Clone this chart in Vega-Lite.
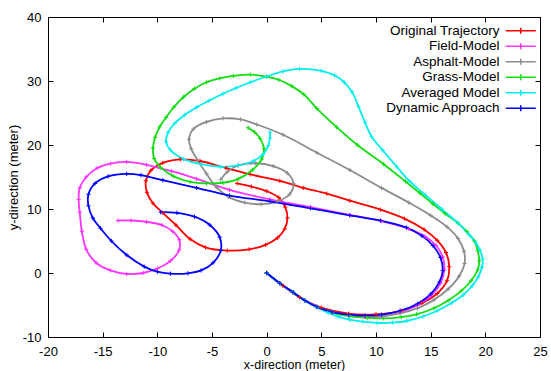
{
  "$schema": "https://vega.github.io/schema/vega-lite/v6.json",
  "width": 492,
  "height": 320,
  "autosize": {"type": "none"},
  "padding": {"left": 48, "top": 17, "right": 11, "bottom": 34},
  "background": "white",
  "config": {
    "font": "Liberation Sans",
    "view": {"stroke": "black", "strokeWidth": 1},
    "axis": {"domain": false, "grid": false, "labelFontSize": 13, "titleFontSize": 13, "titleFontWeight": "normal", "labelColor": "black", "titleColor": "black", "tickColor": "black", "tickSize": -5, "labelFlush": false, "labelOverlap": false}
  },
  "data": {"values": [
    {"s":"Original Trajectory","i":0,"x":0,"y":0},{"s":"Original Trajectory","i":1,"x":1.5,"y":-2.0},{"s":"Original Trajectory","i":2,"x":3.0,"y":-3.8},{"s":"Original Trajectory","i":3,"x":5.0,"y":-5.4},{"s":"Original Trajectory","i":4,"x":7.5,"y":-6.35},{"s":"Original Trajectory","i":5,"x":10.0,"y":-6.45},{"s":"Original Trajectory","i":6,"x":12.3,"y":-5.9},{"s":"Original Trajectory","i":7,"x":14.2,"y":-4.7},{"s":"Original Trajectory","i":8,"x":15.6,"y":-3.2},{"s":"Original Trajectory","i":9,"x":16.5,"y":-1.2},{"s":"Original Trajectory","i":10,"x":16.7,"y":1.0},{"s":"Original Trajectory","i":11,"x":16.4,"y":3.2},{"s":"Original Trajectory","i":12,"x":15.6,"y":5.1},{"s":"Original Trajectory","i":13,"x":14.4,"y":6.8},{"s":"Original Trajectory","i":14,"x":12.6,"y":8.5},{"s":"Original Trajectory","i":15,"x":10.4,"y":9.9},{"s":"Original Trajectory","i":16,"x":7.6,"y":11.3},{"s":"Original Trajectory","i":17,"x":5.5,"y":12.4},{"s":"Original Trajectory","i":18,"x":3.35,"y":13.3},{"s":"Original Trajectory","i":19,"x":1.2,"y":14.4},{"s":"Original Trajectory","i":20,"x":-1.5,"y":15.4},{"s":"Original Trajectory","i":21,"x":-3.7,"y":16.4},{"s":"Original Trajectory","i":22,"x":-6.1,"y":17.5},{"s":"Original Trajectory","i":23,"x":-7.9,"y":17.75},{"s":"Original Trajectory","i":24,"x":-9.5,"y":17.2},{"s":"Original Trajectory","i":25,"x":-10.6,"y":16.0},{"s":"Original Trajectory","i":26,"x":-11.05,"y":14.4},{"s":"Original Trajectory","i":27,"x":-10.95,"y":12.6},{"s":"Original Trajectory","i":28,"x":-10.4,"y":10.9},{"s":"Original Trajectory","i":29,"x":-9.5,"y":9.4},{"s":"Original Trajectory","i":30,"x":-8.3,"y":7.5},{"s":"Original Trajectory","i":31,"x":-7.0,"y":5.3},{"s":"Original Trajectory","i":32,"x":-5.6,"y":4.0},{"s":"Original Trajectory","i":33,"x":-3.6,"y":3.5},{"s":"Original Trajectory","i":34,"x":-1.6,"y":3.7},{"s":"Original Trajectory","i":35,"x":-0.1,"y":4.4},{"s":"Original Trajectory","i":36,"x":1.0,"y":5.5},{"s":"Original Trajectory","i":37,"x":1.65,"y":6.9},{"s":"Original Trajectory","i":38,"x":1.9,"y":8.6},{"s":"Original Trajectory","i":39,"x":1.7,"y":10.3},{"s":"Original Trajectory","i":40,"x":1.1,"y":11.8},{"s":"Original Trajectory","i":41,"x":0.0,"y":12.8},{"s":"Original Trajectory","i":42,"x":-1.4,"y":13.5},{"s":"Original Trajectory","i":43,"x":-2.7,"y":14.0},
    {"s":"Field-Model","i":0,"x":0,"y":0},{"s":"Field-Model","i":1,"x":1.2,"y":-1.6},{"s":"Field-Model","i":2,"x":2.4,"y":-3.0},{"s":"Field-Model","i":3,"x":3.5,"y":-4.3},{"s":"Field-Model","i":4,"x":4.6,"y":-5.3},{"s":"Field-Model","i":5,"x":6.0,"y":-6.2},{"s":"Field-Model","i":6,"x":7.5,"y":-6.7},{"s":"Field-Model","i":7,"x":9.0,"y":-6.9},{"s":"Field-Model","i":8,"x":10.5,"y":-6.8},{"s":"Field-Model","i":9,"x":12.2,"y":-6.15},{"s":"Field-Model","i":10,"x":13.8,"y":-5.0},{"s":"Field-Model","i":11,"x":15.0,"y":-3.6},{"s":"Field-Model","i":12,"x":15.9,"y":-1.6},{"s":"Field-Model","i":13,"x":16.25,"y":0.5},{"s":"Field-Model","i":14,"x":16.1,"y":2.5},{"s":"Field-Model","i":15,"x":15.5,"y":4.3},{"s":"Field-Model","i":16,"x":14.5,"y":5.7},{"s":"Field-Model","i":17,"x":13.0,"y":6.9},{"s":"Field-Model","i":18,"x":10.5,"y":8.1},{"s":"Field-Model","i":19,"x":7.6,"y":9.1},{"s":"Field-Model","i":20,"x":4.0,"y":10.3},{"s":"Field-Model","i":21,"x":0.3,"y":11.5},{"s":"Field-Model","i":22,"x":-3.4,"y":13.0},{"s":"Field-Model","i":23,"x":-6.4,"y":14.7},{"s":"Field-Model","i":24,"x":-8.7,"y":15.9},{"s":"Field-Model","i":25,"x":-11.0,"y":16.9},{"s":"Field-Model","i":26,"x":-12.8,"y":17.35},{"s":"Field-Model","i":27,"x":-14.3,"y":17.1},{"s":"Field-Model","i":28,"x":-15.5,"y":16.4},{"s":"Field-Model","i":29,"x":-16.5,"y":15.0},{"s":"Field-Model","i":30,"x":-17.1,"y":13.3},{"s":"Field-Model","i":31,"x":-17.2,"y":11.5},{"s":"Field-Model","i":32,"x":-17.1,"y":9.5},{"s":"Field-Model","i":33,"x":-16.9,"y":6.5},{"s":"Field-Model","i":34,"x":-16.5,"y":3.7},{"s":"Field-Model","i":35,"x":-15.6,"y":1.6},{"s":"Field-Model","i":36,"x":-14.3,"y":0.4},{"s":"Field-Model","i":37,"x":-12.8,"y":-0.15},{"s":"Field-Model","i":38,"x":-11.3,"y":0.0},{"s":"Field-Model","i":39,"x":-10.0,"y":0.7},{"s":"Field-Model","i":40,"x":-8.8,"y":1.9},{"s":"Field-Model","i":41,"x":-8.0,"y":3.6},{"s":"Field-Model","i":42,"x":-8.0,"y":5.2},{"s":"Field-Model","i":43,"x":-8.6,"y":6.5},{"s":"Field-Model","i":44,"x":-9.6,"y":7.5},{"s":"Field-Model","i":45,"x":-11.0,"y":8.0},{"s":"Field-Model","i":46,"x":-12.4,"y":8.2},{"s":"Field-Model","i":47,"x":-13.6,"y":8.2},
    {"s":"Asphalt-Model","i":0,"x":0,"y":0},{"s":"Asphalt-Model","i":1,"x":1.2,"y":-1.6},{"s":"Asphalt-Model","i":2,"x":2.4,"y":-3.0},{"s":"Asphalt-Model","i":3,"x":3.5,"y":-4.3},{"s":"Asphalt-Model","i":4,"x":4.6,"y":-5.3},{"s":"Asphalt-Model","i":5,"x":6.0,"y":-6.1},{"s":"Asphalt-Model","i":6,"x":7.5,"y":-6.6},{"s":"Asphalt-Model","i":7,"x":9.0,"y":-6.8},{"s":"Asphalt-Model","i":8,"x":10.5,"y":-6.7},{"s":"Asphalt-Model","i":9,"x":12.2,"y":-6.3},{"s":"Asphalt-Model","i":10,"x":13.8,"y":-5.5},{"s":"Asphalt-Model","i":11,"x":15.3,"y":-4.2},{"s":"Asphalt-Model","i":12,"x":16.6,"y":-2.5},{"s":"Asphalt-Model","i":13,"x":17.6,"y":-0.5},{"s":"Asphalt-Model","i":14,"x":18.1,"y":1.5},{"s":"Asphalt-Model","i":15,"x":18.05,"y":3.4},{"s":"Asphalt-Model","i":16,"x":17.5,"y":5.4},{"s":"Asphalt-Model","i":17,"x":16.5,"y":7.2},{"s":"Asphalt-Model","i":18,"x":15.0,"y":9.0},{"s":"Asphalt-Model","i":19,"x":13.0,"y":11.0},{"s":"Asphalt-Model","i":20,"x":10.5,"y":13.3},{"s":"Asphalt-Model","i":21,"x":7.6,"y":16.1},{"s":"Asphalt-Model","i":22,"x":4.6,"y":18.8},{"s":"Asphalt-Model","i":23,"x":1.5,"y":21.6},{"s":"Asphalt-Model","i":24,"x":-0.9,"y":23.2},{"s":"Asphalt-Model","i":25,"x":-2.4,"y":24.0},{"s":"Asphalt-Model","i":26,"x":-4.0,"y":24.15},{"s":"Asphalt-Model","i":27,"x":-5.5,"y":23.6},{"s":"Asphalt-Model","i":28,"x":-6.7,"y":22.5},{"s":"Asphalt-Model","i":29,"x":-7.1,"y":20.9},{"s":"Asphalt-Model","i":30,"x":-6.9,"y":19.4},{"s":"Asphalt-Model","i":31,"x":-6.3,"y":17.6},{"s":"Asphalt-Model","i":32,"x":-5.5,"y":15.5},{"s":"Asphalt-Model","i":33,"x":-4.6,"y":13.4},{"s":"Asphalt-Model","i":34,"x":-3.5,"y":11.9},{"s":"Asphalt-Model","i":35,"x":-2.0,"y":11.0},{"s":"Asphalt-Model","i":36,"x":-0.5,"y":10.75},{"s":"Asphalt-Model","i":37,"x":1.0,"y":11.2},{"s":"Asphalt-Model","i":38,"x":2.1,"y":12.3},{"s":"Asphalt-Model","i":39,"x":2.45,"y":14.0},{"s":"Asphalt-Model","i":40,"x":1.9,"y":15.6},{"s":"Asphalt-Model","i":41,"x":0.6,"y":16.7},{"s":"Asphalt-Model","i":42,"x":-1.0,"y":17.15},{"s":"Asphalt-Model","i":43,"x":-2.6,"y":16.8},{"s":"Asphalt-Model","i":44,"x":-3.6,"y":15.8},{"s":"Asphalt-Model","i":45,"x":-4.2,"y":14.6},
    {"s":"Grass-Model","i":0,"x":0,"y":0},{"s":"Grass-Model","i":1,"x":1.2,"y":-1.6},{"s":"Grass-Model","i":2,"x":2.4,"y":-3.0},{"s":"Grass-Model","i":3,"x":3.5,"y":-4.3},{"s":"Grass-Model","i":4,"x":4.6,"y":-5.3},{"s":"Grass-Model","i":5,"x":6.0,"y":-6.2},{"s":"Grass-Model","i":6,"x":7.6,"y":-6.75},{"s":"Grass-Model","i":7,"x":9.2,"y":-7.0},{"s":"Grass-Model","i":8,"x":10.7,"y":-7.1},{"s":"Grass-Model","i":9,"x":12.3,"y":-6.9},{"s":"Grass-Model","i":10,"x":13.7,"y":-6.45},{"s":"Grass-Model","i":11,"x":15.3,"y":-5.5},{"s":"Grass-Model","i":12,"x":16.6,"y":-4.3},{"s":"Grass-Model","i":13,"x":17.8,"y":-2.8},{"s":"Grass-Model","i":14,"x":18.7,"y":-1.2},{"s":"Grass-Model","i":15,"x":19.3,"y":0.5},{"s":"Grass-Model","i":16,"x":19.45,"y":1.9},{"s":"Grass-Model","i":17,"x":19.3,"y":3.5},{"s":"Grass-Model","i":18,"x":19.0,"y":5.0},{"s":"Grass-Model","i":19,"x":18.3,"y":6.5},{"s":"Grass-Model","i":20,"x":17.5,"y":7.8},{"s":"Grass-Model","i":21,"x":16.3,"y":9.3},{"s":"Grass-Model","i":22,"x":15.2,"y":10.8},{"s":"Grass-Model","i":23,"x":14.0,"y":12.5},{"s":"Grass-Model","i":24,"x":12.7,"y":14.3},{"s":"Grass-Model","i":25,"x":10.7,"y":17.0},{"s":"Grass-Model","i":26,"x":8.3,"y":20.0},{"s":"Grass-Model","i":27,"x":6.4,"y":22.8},{"s":"Grass-Model","i":28,"x":4.6,"y":25.7},{"s":"Grass-Model","i":29,"x":3.4,"y":27.9},{"s":"Grass-Model","i":30,"x":2.3,"y":29.2},{"s":"Grass-Model","i":31,"x":1.1,"y":30.2},{"s":"Grass-Model","i":32,"x":0,"y":30.7},{"s":"Grass-Model","i":33,"x":-1.5,"y":31.0},{"s":"Grass-Model","i":34,"x":-3.05,"y":30.8},{"s":"Grass-Model","i":35,"x":-4.3,"y":30.4},{"s":"Grass-Model","i":36,"x":-5.5,"y":29.8},{"s":"Grass-Model","i":37,"x":-6.6,"y":28.8},{"s":"Grass-Model","i":38,"x":-7.6,"y":27.5},{"s":"Grass-Model","i":39,"x":-8.5,"y":25.9},{"s":"Grass-Model","i":40,"x":-9.2,"y":24.3},{"s":"Grass-Model","i":41,"x":-9.8,"y":22.8},{"s":"Grass-Model","i":42,"x":-10.2,"y":21.2},{"s":"Grass-Model","i":43,"x":-10.4,"y":19.5},{"s":"Grass-Model","i":44,"x":-10.3,"y":17.9},{"s":"Grass-Model","i":45,"x":-9.7,"y":16.5},{"s":"Grass-Model","i":46,"x":-8.5,"y":15.1},{"s":"Grass-Model","i":47,"x":-7.0,"y":14.25},{"s":"Grass-Model","i":48,"x":-5.5,"y":14.0},{"s":"Grass-Model","i":49,"x":-4.0,"y":14.1},{"s":"Grass-Model","i":50,"x":-2.6,"y":14.7},{"s":"Grass-Model","i":51,"x":-1.3,"y":16.1},{"s":"Grass-Model","i":52,"x":-0.45,"y":17.8},{"s":"Grass-Model","i":53,"x":-0.25,"y":19.4},{"s":"Grass-Model","i":54,"x":-0.6,"y":21.0},{"s":"Grass-Model","i":55,"x":-1.1,"y":22.0},{"s":"Grass-Model","i":56,"x":-1.7,"y":22.7},
    {"s":"Averaged Model","i":0,"x":0,"y":0},{"s":"Averaged Model","i":1,"x":1.2,"y":-1.6},{"s":"Averaged Model","i":2,"x":2.4,"y":-3.0},{"s":"Averaged Model","i":3,"x":3.5,"y":-4.3},{"s":"Averaged Model","i":4,"x":4.6,"y":-5.4},{"s":"Averaged Model","i":5,"x":5.6,"y":-6.2},{"s":"Averaged Model","i":6,"x":6.6,"y":-6.85},{"s":"Averaged Model","i":7,"x":7.6,"y":-7.3},{"s":"Averaged Model","i":8,"x":8.8,"y":-7.6},{"s":"Averaged Model","i":9,"x":10.1,"y":-7.8},{"s":"Averaged Model","i":10,"x":11.5,"y":-7.75},{"s":"Averaged Model","i":11,"x":12.8,"y":-7.5},{"s":"Averaged Model","i":12,"x":14.3,"y":-6.8},{"s":"Averaged Model","i":13,"x":15.6,"y":-5.9},{"s":"Averaged Model","i":14,"x":16.9,"y":-4.7},{"s":"Averaged Model","i":15,"x":18.0,"y":-3.4},{"s":"Averaged Model","i":16,"x":18.8,"y":-2.0},{"s":"Averaged Model","i":17,"x":19.35,"y":-0.6},{"s":"Averaged Model","i":18,"x":19.7,"y":0.9},{"s":"Averaged Model","i":19,"x":19.75,"y":2.2},{"s":"Averaged Model","i":20,"x":19.5,"y":3.6},{"s":"Averaged Model","i":21,"x":19.1,"y":4.8},{"s":"Averaged Model","i":22,"x":18.5,"y":6.0},{"s":"Averaged Model","i":23,"x":17.5,"y":7.8},{"s":"Averaged Model","i":24,"x":16.0,"y":10.0},{"s":"Averaged Model","i":25,"x":14.5,"y":12.2},{"s":"Averaged Model","i":26,"x":13.1,"y":14.3},{"s":"Averaged Model","i":27,"x":11.9,"y":16.6},{"s":"Averaged Model","i":28,"x":10.6,"y":19.2},{"s":"Averaged Model","i":29,"x":9.6,"y":21.3},{"s":"Averaged Model","i":30,"x":9.0,"y":23.5},{"s":"Averaged Model","i":31,"x":8.4,"y":26.0},{"s":"Averaged Model","i":32,"x":7.8,"y":28.3},{"s":"Averaged Model","i":33,"x":7.1,"y":29.8},{"s":"Averaged Model","i":34,"x":6.2,"y":30.9},{"s":"Averaged Model","i":35,"x":5.0,"y":31.6},{"s":"Averaged Model","i":36,"x":3.0,"y":31.9},{"s":"Averaged Model","i":37,"x":1.5,"y":31.5},{"s":"Averaged Model","i":38,"x":0,"y":30.7},{"s":"Averaged Model","i":39,"x":-1.5,"y":29.8},{"s":"Averaged Model","i":40,"x":-2.8,"y":28.9},{"s":"Averaged Model","i":41,"x":-4.0,"y":28.0},{"s":"Averaged Model","i":42,"x":-5.3,"y":26.9},{"s":"Averaged Model","i":43,"x":-6.4,"y":25.9},{"s":"Averaged Model","i":44,"x":-7.5,"y":24.7},{"s":"Averaged Model","i":45,"x":-8.4,"y":23.4},{"s":"Averaged Model","i":46,"x":-9.0,"y":22.0},{"s":"Averaged Model","i":47,"x":-9.2,"y":20.5},{"s":"Averaged Model","i":48,"x":-8.8,"y":19.2},{"s":"Averaged Model","i":49,"x":-7.6,"y":17.8},{"s":"Averaged Model","i":50,"x":-6.0,"y":17.0},{"s":"Averaged Model","i":51,"x":-4.2,"y":16.6},{"s":"Averaged Model","i":52,"x":-2.6,"y":16.8},{"s":"Averaged Model","i":53,"x":-1.2,"y":17.5},{"s":"Averaged Model","i":54,"x":-0.3,"y":18.6},{"s":"Averaged Model","i":55,"x":0.15,"y":19.9},{"s":"Averaged Model","i":56,"x":0.3,"y":21.1},{"s":"Averaged Model","i":57,"x":0.3,"y":22.0},
    {"s":"Dynamic Approach","i":0,"x":0,"y":0},{"s":"Dynamic Approach","i":1,"x":1.2,"y":-1.6},{"s":"Dynamic Approach","i":2,"x":2.4,"y":-3.0},{"s":"Dynamic Approach","i":3,"x":3.5,"y":-4.3},{"s":"Dynamic Approach","i":4,"x":4.6,"y":-5.3},{"s":"Dynamic Approach","i":5,"x":6.0,"y":-6.1},{"s":"Dynamic Approach","i":6,"x":7.5,"y":-6.5},{"s":"Dynamic Approach","i":7,"x":9.0,"y":-6.65},{"s":"Dynamic Approach","i":8,"x":10.5,"y":-6.5},{"s":"Dynamic Approach","i":9,"x":12.2,"y":-5.9},{"s":"Dynamic Approach","i":10,"x":13.8,"y":-4.8},{"s":"Dynamic Approach","i":11,"x":15.0,"y":-3.3},{"s":"Dynamic Approach","i":12,"x":15.8,"y":-1.4},{"s":"Dynamic Approach","i":13,"x":16.1,"y":0.4},{"s":"Dynamic Approach","i":14,"x":15.9,"y":2.4},{"s":"Dynamic Approach","i":15,"x":15.2,"y":4.3},{"s":"Dynamic Approach","i":16,"x":14.2,"y":5.8},{"s":"Dynamic Approach","i":17,"x":12.8,"y":7.1},{"s":"Dynamic Approach","i":18,"x":10.4,"y":8.2},{"s":"Dynamic Approach","i":19,"x":7.6,"y":9.0},{"s":"Dynamic Approach","i":20,"x":4.0,"y":10.1},{"s":"Dynamic Approach","i":21,"x":0.3,"y":11.2},{"s":"Dynamic Approach","i":22,"x":-3.4,"y":12.1},{"s":"Dynamic Approach","i":23,"x":-6.4,"y":13.3},{"s":"Dynamic Approach","i":24,"x":-9.5,"y":14.5},{"s":"Dynamic Approach","i":25,"x":-11.5,"y":15.3},{"s":"Dynamic Approach","i":26,"x":-12.8,"y":15.5},{"s":"Dynamic Approach","i":27,"x":-14.5,"y":15.1},{"s":"Dynamic Approach","i":28,"x":-15.7,"y":14.0},{"s":"Dynamic Approach","i":29,"x":-16.3,"y":12.3},{"s":"Dynamic Approach","i":30,"x":-16.3,"y":10.5},{"s":"Dynamic Approach","i":31,"x":-15.9,"y":8.6},{"s":"Dynamic Approach","i":32,"x":-15.2,"y":7.0},{"s":"Dynamic Approach","i":33,"x":-14.2,"y":5.0},{"s":"Dynamic Approach","i":34,"x":-12.8,"y":2.8},{"s":"Dynamic Approach","i":35,"x":-11.2,"y":1.0},{"s":"Dynamic Approach","i":36,"x":-10.0,"y":0.2},{"s":"Dynamic Approach","i":37,"x":-8.8,"y":-0.1},{"s":"Dynamic Approach","i":38,"x":-7.2,"y":-0.05},{"s":"Dynamic Approach","i":39,"x":-6.0,"y":0.4},{"s":"Dynamic Approach","i":40,"x":-4.9,"y":1.6},{"s":"Dynamic Approach","i":41,"x":-4.2,"y":3.5},{"s":"Dynamic Approach","i":42,"x":-4.3,"y":5.6},{"s":"Dynamic Approach","i":43,"x":-5.2,"y":7.5},{"s":"Dynamic Approach","i":44,"x":-6.6,"y":8.8},{"s":"Dynamic Approach","i":45,"x":-8.2,"y":9.4},{"s":"Dynamic Approach","i":46,"x":-9.7,"y":9.5}
  ]},
  "layer": [
    {
      "mark": {"type": "line", "interpolate": "catmull-rom", "strokeWidth": 1.8},
      "encoding": {
        "x": {"field": "x", "type": "quantitative", "scale": {"domain": [-20, 25], "nice": false, "zero": false},
              "axis": {"orient": "bottom", "values": [-20,-15,-10,-5,0,5,10,15,20,25], "title": "x-direction (meter)", "titleFontSize": 12.5, "labelPadding": 13, "titlePadding": 0, "labelExpr": "'' + datum.value"}},
        "y": {"field": "y", "type": "quantitative", "scale": {"domain": [-10, 40], "nice": false, "zero": false},
              "axis": {"orient": "left", "values": [-10,0,10,20,30,40], "title": "y-direction (meter)", "labelPadding": 12, "titlePadding": 2, "labelExpr": "'' + datum.value"}},
        "color": {"field": "s", "type": "nominal",
                  "scale": {"domain": ["Original Trajectory","Field-Model","Asphalt-Model","Grass-Model","Averaged Model","Dynamic Approach"],
                            "range": ["#ff0000","#ff33ff","#8c8c8c","#11dd11","#00eeee","#0000ff"]},
                  "legend": {"orient": "top-right", "title": " ", "titleFontSize": 4, "titlePadding": 2, "offset": 1, "padding": 0, "labelFontSize": 13.5, "labelColor": "black", "labelAlign": "right", "labelOffset": -28, "symbolType": "M-3,0H3M0,-0.6V0.6", "symbolSize": 100, "symbolStrokeWidth": 1.5, "symbolFillColor": "transparent", "rowPadding": 0.5, "labelLimit": 300}},
        "order": {"field": "i", "type": "quantitative"}
      }
    },
    {
      "mark": {"type": "point", "shape": "M-1,0H1M0,-1V1", "size": 18, "filled": false, "strokeWidth": 1, "opacity": 1},
      "encoding": {
        "x": {"field": "x", "type": "quantitative", "scale": {"domain": [-20, 25], "nice": false, "zero": false},
              "axis": {"orient": "top", "values": [-20,-15,-10,-5,0,5,10,15,20,25], "labels": false, "title": null}},
        "y": {"field": "y", "type": "quantitative", "scale": {"domain": [-10, 40], "nice": false, "zero": false},
              "axis": {"orient": "right", "values": [-10,0,10,20,30,40], "labels": false, "title": null}},
        "color": {"field": "s", "type": "nominal", "legend": null}
      }
    }
  ],
  "resolve": {"axis": {"x": "independent", "y": "independent"}}
}
